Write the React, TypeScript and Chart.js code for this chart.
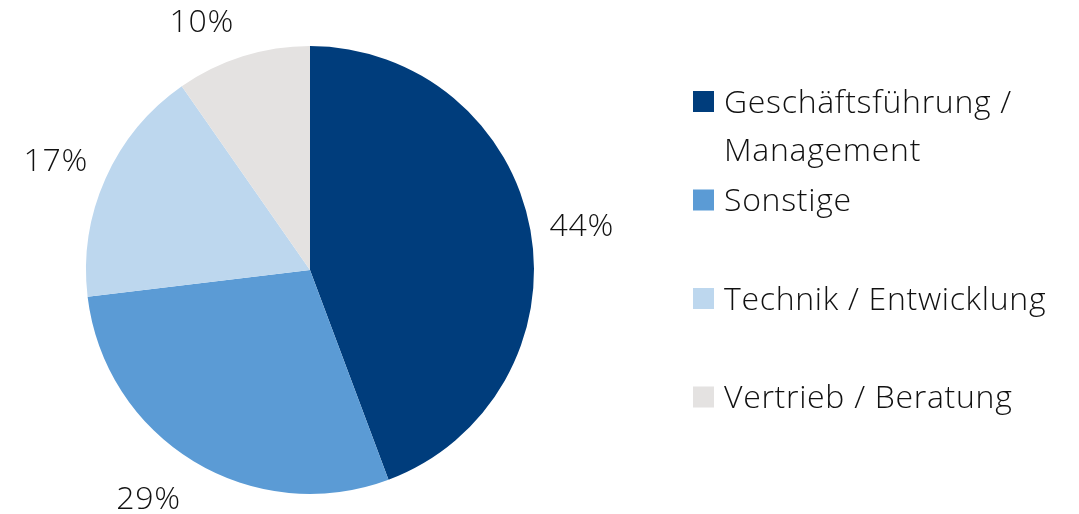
import React, { useEffect, useRef } from 'react';
import { Chart, registerables } from 'chart.js';

Chart.register(...registerables);

const categories = ['Geschäftsführung / Management', 'Sonstige', 'Technik / Entwicklung', 'Vertrieb / Beratung'];
const shares = [44.3, 28.8, 17.2, 9.7];
const percentLabels = ['44%', '29%', '17%', '10%'];
const colors = ['#003d7c', '#5b9bd5', '#bdd7ee', '#e4e2e1'];

// styling / layout
const FONT_FAMILY = '"Open Sans", "DejaVu Sans", sans-serif';
const FONT_WEIGHT = '350';
const FONT_SIZE = 32;
const LETTER_SPACING = '0.7px';
const TEXT_COLOR = '#111111';
const LABEL_GAP = 18;
const labelNudge: [number, number][] = [[2, 0], [-19, 8], [-4, -5], [-26, -4]];
const LEGEND_X = 693;
const LEGEND_BOX = 21;
const LEGEND_TEXT_X = 724;
const LEGEND_FIRST_Y = 101.5;
const LEGEND_STEP = 98.5;
const LEGEND_LINE_H = 48;
const LEGEND_MAX_W = 345;

function wrap(ctx: CanvasRenderingContext2D, text: string, maxW: number): string[] {
  const words = text.split(' ');
  const lines: string[] = [];
  let cur = '';
  for (const w of words) {
    const t = cur ? cur + ' ' + w : w;
    if (ctx.measureText(t).width > maxW && cur) {
      lines.push(cur);
      cur = w;
    } else cur = t;
  }
  if (cur) lines.push(cur);
  return lines;
}

const overlayPlugin = {
  id: 'overlay',
  afterDraw(chart: any) {
    const ctx: any = chart.ctx;
    const meta = chart.getDatasetMeta(0);
    ctx.save();
    ctx.font = `${FONT_WEIGHT} ${FONT_SIZE}px ${FONT_FAMILY}`;
    if ('letterSpacing' in ctx) ctx.letterSpacing = LETTER_SPACING;
    ctx.fillStyle = TEXT_COLOR;
    const capH = FONT_SIZE * 0.714;
    // percent labels
    meta.data.forEach((arc: any, i: number) => {
      const p = arc.getProps(['x', 'y', 'startAngle', 'endAngle', 'outerRadius'], true);
      const mid = (p.startAngle + p.endAngle) / 2;
      const dx = Math.cos(mid);
      const dy = Math.sin(mid);
      const r = p.outerRadius + LABEL_GAP;
      const text = percentLabels[i];
      const w = ctx.measureText(text).width;
      const h = capH + 8;
      const cx = p.x + dx * r + (dx * w) / 2 + labelNudge[i][0];
      const cy = p.y + dy * r + (dy * h) / 2 + labelNudge[i][1];
      ctx.textAlign = 'center';
      ctx.textBaseline = 'alphabetic';
      ctx.fillText(text, cx, cy + capH / 2);
    });
    // legend
    categories.forEach((cat, i) => {
      const cyBox = LEGEND_FIRST_Y + i * LEGEND_STEP;
      ctx.fillStyle = colors[i];
      ctx.fillRect(LEGEND_X, cyBox - LEGEND_BOX / 2, LEGEND_BOX, LEGEND_BOX);
      ctx.fillStyle = TEXT_COLOR;
      ctx.textAlign = 'left';
      ctx.textBaseline = 'alphabetic';
      const lines = wrap(ctx, cat, LEGEND_MAX_W);
      lines.forEach((ln, j) => {
        ctx.fillText(ln, LEGEND_TEXT_X, cyBox + capH / 2 + j * LEGEND_LINE_H);
      });
    });
    ctx.restore();
  },
};

export default function App() {
  const ref = useRef<HTMLCanvasElement>(null);
  useEffect(() => {
    if (!ref.current) return;
    const chart = new Chart(ref.current, {
      type: 'pie',
      data: {
        labels: categories,
        datasets: [
          {
            data: shares,
            backgroundColor: colors,
            borderWidth: 0,
          },
        ],
      },
      options: {
        animation: false,
        responsive: false,
        maintainAspectRatio: false,
        layout: { padding: { left: 86, right: 545, top: 46, bottom: 20 } },
        plugins: {
          legend: { display: false },
          tooltip: { enabled: false },
          title: { display: false },
        },
      },
      plugins: [overlayPlugin],
    });
    return () => chart.destroy();
  }, []);
  return (
    <div style={{ position: 'absolute', left: 0, top: 0, width: 1079, height: 514, background: '#ffffff' }}>
      <canvas ref={ref} width={1079} height={514} style={{ display: 'block', width: 1079, height: 514 }} />
    </div>
  );
}
